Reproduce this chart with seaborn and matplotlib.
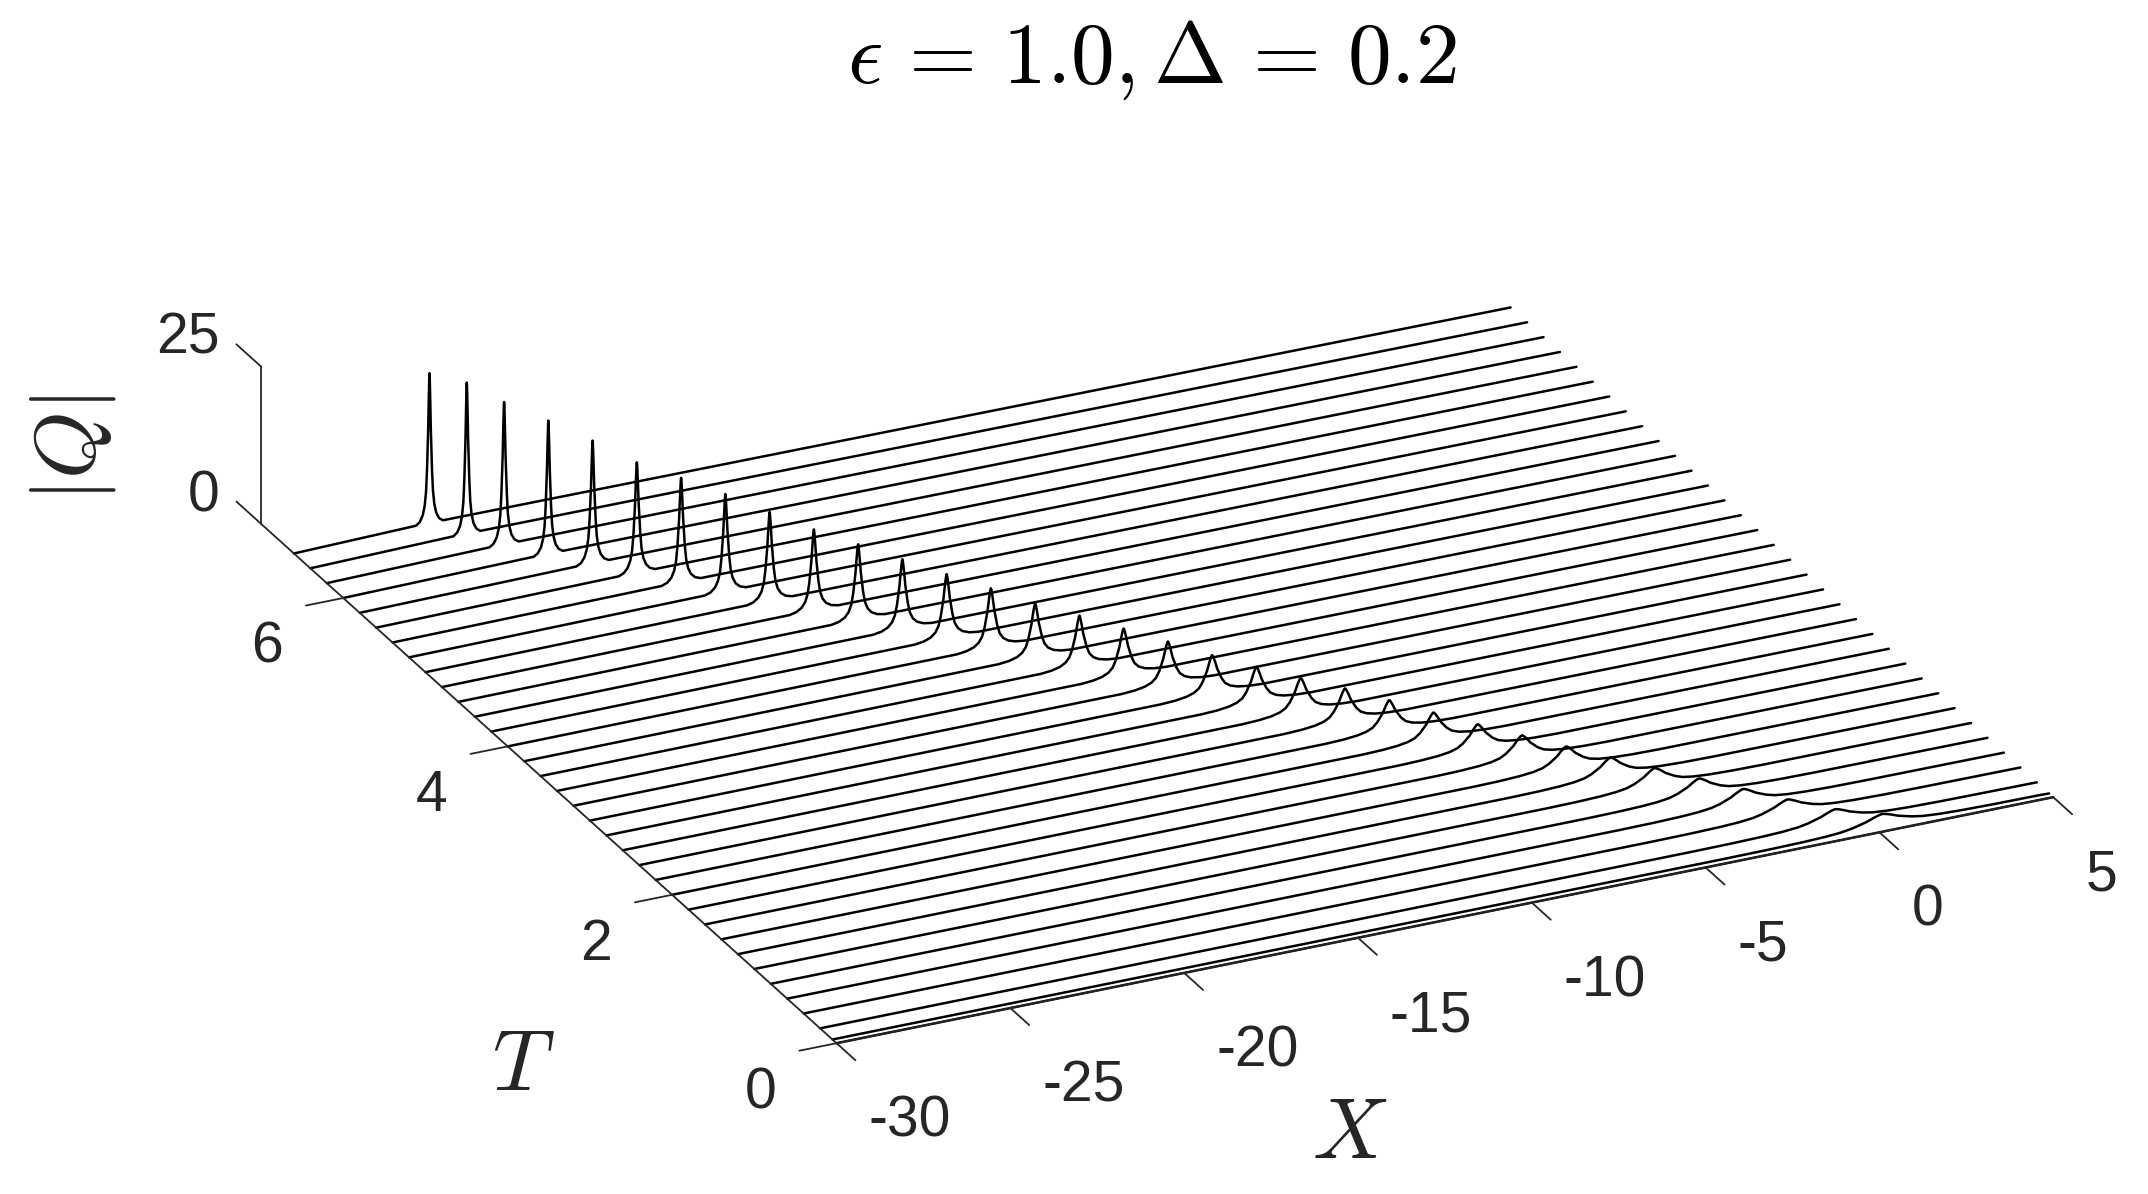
import numpy as np
import matplotlib
matplotlib.use("Agg")
import matplotlib.pyplot as plt
import seaborn as sns
from mpl_toolkits.mplot3d import proj3d

# one line per time slice (back to front)
t_slices = [6.6, 6.4, 6.2, 6.0, 5.8, 5.6, 5.4, 5.2, 5.0, 4.8, 4.6, 4.4, 4.2, 4.0, 3.8, 3.6, 3.4,
            3.2, 3.0, 2.8, 2.6, 2.4, 2.2, 2.0, 1.8, 1.6, 1.4, 1.2, 1.0, 0.8, 0.6, 0.4, 0.2, 0.05]
peak_x = [-26.1, -25.5, -24.9, -24.1, -23.3, -22.5, -21.7, -20.9, -20.1, -19.3, -18.5, -17.7,
          -16.9, -16.1, -15.3, -14.5, -13.7, -12.9, -12.1, -11.3, -10.5, -9.7, -8.9, -8.1,
          -7.3, -6.5, -5.7, -4.9, -4.1, -3.3, -2.5, -1.7, -0.8, 0.2]
peak_q = [24.3, 24.5, 23.1, 21.6, 19.9, 17.9, 16.9, 15.8, 14.4, 13.1, 12.2, 11.3, 10.4, 9.6,
          8.7, 8.2, 7.6, 7.0, 6.3, 5.9, 5.6, 5.4, 5.0, 4.5, 4.1, 3.8, 3.5, 3.2, 3.0, 2.8,
          2.6, 2.4, 2.2, 2.1]
peak_w = [.055, .055, .06, .06, .067, .075, .08, .085, .093, .1, .11, .12, .13, .14, .15,
          .16, .175, .19, .21, .225, .24, .25, .265, .295, .325, .35, .38, .415, .445,
          .475, .51, .555, .6, .65]

# shared pulse outline: distance from the peak in half widths, fraction of the peak height
pulse_off = [-7, -5, -3.5, -2.5, -1.8, -1.3, -1, -.7, -.4, -.2, -.08, 0,
             .08, .2, .4, .7, 1, 1.3, 1.8, 2.5, 3.5, 5, 7]
pulse_rel = [.02, .04, .08, .14, .23, .37, .5, .63, .82, .93, .985, 1,
             .985, .93, .82, .63, .5, .37, .23, .14, .08, .04, .02]

x_range = [-30, 5]
t_range = [0, 7]
q_range = [0, 25]
x_ticks = [-30, -25, -20, -15, -10, -5, 0, 5]
t_ticks = [0, 2, 4, 6]
q_ticks = [0, 25]

sns.set_theme(style="white", rc={"mathtext.fontset": "cm"})
plt.rcParams["font.family"] = ["Liberation Sans", "DejaVu Sans"]

INK = "#262626"
S = 2600  # side of the square 3d axes, px

fig = plt.figure(figsize=(21.48, 11.94), dpi=100)
ax = fig.add_axes([-178 / 2148, -723 / 1194, S / 2148, S / 1194], projection="3d", proj_type="ortho")
ax.view_init(elev=25.29, azim=-115.33)
ax.set_box_aspect((984.6, 983.9, 127.2), zoom=0.7135)
ax.set_xlim(*x_range)
ax.set_ylim(*t_range)
ax.set_zlim(*q_range)
ax.set_axis_off()

off = np.array(pulse_off)
rel = np.array(pulse_rel)
for t, px, q, w in zip(t_slices, peak_x, peak_q, peak_w):
    xs = np.concatenate(([x_range[0]], px + w * off, [x_range[1]]))
    zs = np.concatenate(([0], q * rel, [0]))
    ax.plot(xs, np.full_like(xs, t), zs, color="black", lw=1.8)
ax.plot(x_range, [0, 0], [0, 0], color="black", lw=1.8)


def tick_label(x, t, q, text, dx, dy, ha):
    # label placed from the projected tick point, offset in points
    px, py, _ = proj3d.proj_transform(x, t, q, ax.get_proj())
    ax.annotate(text, (px, py), xytext=(dx, dy), textcoords="offset points",
                ha=ha, va="center", fontsize=41, color=INK)


# hand drawn axes, matlab style
ax.plot(x_range, [0, 0], [0, 0], color=INK, lw=1.3)
ax.plot([-30, -30], t_range, [0, 0], color=INK, lw=1.3)
ax.plot([-30, -30], [7, 7], q_range, color=INK, lw=1.3)
for v in x_ticks:
    ax.plot([v, v], [0, -0.23], [0, 0], color=INK, lw=1.3)
    tick_label(v, 0, 0, str(v), 23, -56.5, "left")
for v in t_ticks:
    ax.plot([-30, -31.07], [v, v], [0, 0], color=INK, lw=1.3)
    tick_label(-30, v, 0, str(v), -55, -36, "center")
for v in q_ticks:
    ax.plot([-30, -30], [7, 7.3], [v, v], color=INK, lw=1.3)
    tick_label(-30, 7, v, str(v), -30, 20, "right")

fig.text(985 / 1568, 1 - 830 / 872, r"$X$", ha="center", va="center", fontsize=62, color=INK)
fig.text(382 / 1568, 1 - 780 / 872, r"$T$", ha="center", va="center", fontsize=62, color=INK)
fig.text(53 / 1568, 1 - 327 / 872, r"$|Q|$", ha="center", va="center", rotation=90, fontsize=62, color=INK)
fig.text(841 / 1568, 1 - 44 / 872,
         r"$\epsilon\hspace{0.14}=\hspace{0.14}1.0, \Delta\hspace{0.14}=\hspace{0.14}0.2$",
         ha="center", va="center", fontsize=63, color="black")

fig.savefig("out.png", dpi=100)
